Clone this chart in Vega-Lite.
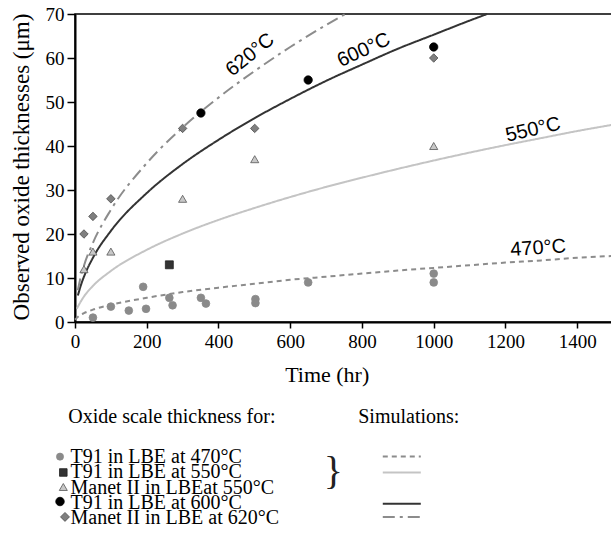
{
  "$schema": "https://vega.github.io/schema/vega-lite/v6.json",
  "width": 537,
  "height": 308,
  "autosize": "none",
  "padding": {"left": 75, "top": 14, "right": 0, "bottom": 212},
  "background": "white",
  "config": {
    "view": {"stroke": "black", "strokeWidth": 1.5}
  },
  "datasets": {
    "obs": [
      {"series": "T91 in LBE at 470°C", "t": 50, "v": 1},
      {"series": "T91 in LBE at 470°C", "t": 100, "v": 3.5},
      {"series": "T91 in LBE at 470°C", "t": 150, "v": 2.6},
      {"series": "T91 in LBE at 470°C", "t": 190, "v": 8},
      {"series": "T91 in LBE at 470°C", "t": 198, "v": 3},
      {"series": "T91 in LBE at 470°C", "t": 263, "v": 5.5},
      {"series": "T91 in LBE at 470°C", "t": 272, "v": 3.8},
      {"series": "T91 in LBE at 470°C", "t": 351, "v": 5.5},
      {"series": "T91 in LBE at 470°C", "t": 365, "v": 4.2},
      {"series": "T91 in LBE at 470°C", "t": 503, "v": 5.2},
      {"series": "T91 in LBE at 470°C", "t": 503, "v": 4.3},
      {"series": "T91 in LBE at 470°C", "t": 650, "v": 9},
      {"series": "T91 in LBE at 470°C", "t": 1000, "v": 11},
      {"series": "T91 in LBE at 470°C", "t": 1000, "v": 9},
      {"series": "T91 in LBE at 550°C", "t": 263, "v": 13},
      {"series": "Manet II in LBEat 550°C", "t": 25, "v": 12},
      {"series": "Manet II in LBEat 550°C", "t": 50, "v": 16},
      {"series": "Manet II in LBEat 550°C", "t": 100, "v": 16},
      {"series": "Manet II in LBEat 550°C", "t": 300, "v": 28},
      {"series": "Manet II in LBEat 550°C", "t": 501, "v": 37},
      {"series": "Manet II in LBEat 550°C", "t": 1000, "v": 40},
      {"series": "T91 in LBE at 600°C", "t": 351, "v": 47.5},
      {"series": "T91 in LBE at 600°C", "t": 650, "v": 55},
      {"series": "T91 in LBE at 600°C", "t": 1000, "v": 62.5},
      {"series": "Manet II in LBE at 620°C", "t": 25, "v": 20},
      {"series": "Manet II in LBE at 620°C", "t": 50, "v": 24},
      {"series": "Manet II in LBE at 620°C", "t": 100, "v": 28},
      {"series": "Manet II in LBE at 620°C", "t": 300, "v": 44},
      {"series": "Manet II in LBE at 620°C", "t": 501, "v": 44},
      {"series": "Manet II in LBE at 620°C", "t": 1000, "v": 60}
    ],
    "sim": [
      {"sim": "470", "t": 0, "v": 0.5}, {"sim": "470", "t": 10, "v": 1.3}, {"sim": "470", "t": 25, "v": 2}, {"sim": "470", "t": 50, "v": 2.8}, {"sim": "470", "t": 100, "v": 3.9}, {"sim": "470", "t": 200, "v": 5.5}, {"sim": "470", "t": 300, "v": 6.8}, {"sim": "470", "t": 400, "v": 7.8}, {"sim": "470", "t": 500, "v": 8.7}, {"sim": "470", "t": 600, "v": 9.6}, {"sim": "470", "t": 700, "v": 10.3}, {"sim": "470", "t": 800, "v": 11}, {"sim": "470", "t": 900, "v": 11.7}, {"sim": "470", "t": 1000, "v": 12.3}, {"sim": "470", "t": 1100, "v": 12.9}, {"sim": "470", "t": 1200, "v": 13.5}, {"sim": "470", "t": 1300, "v": 14}, {"sim": "470", "t": 1400, "v": 14.6}, {"sim": "470", "t": 1497, "v": 15},
      {"sim": "550", "t": 5, "v": 3}, {"sim": "550", "t": 15, "v": 4.5}, {"sim": "550", "t": 25, "v": 5.8}, {"sim": "550", "t": 50, "v": 8.2}, {"sim": "550", "t": 100, "v": 11.6}, {"sim": "550", "t": 200, "v": 16.4}, {"sim": "550", "t": 300, "v": 20.1}, {"sim": "550", "t": 400, "v": 23.2}, {"sim": "550", "t": 500, "v": 25.9}, {"sim": "550", "t": 600, "v": 28.4}, {"sim": "550", "t": 700, "v": 30.7}, {"sim": "550", "t": 800, "v": 32.8}, {"sim": "550", "t": 900, "v": 34.8}, {"sim": "550", "t": 1000, "v": 36.7}, {"sim": "550", "t": 1100, "v": 38.5}, {"sim": "550", "t": 1200, "v": 40.2}, {"sim": "550", "t": 1300, "v": 41.8}, {"sim": "550", "t": 1400, "v": 43.4}, {"sim": "550", "t": 1497, "v": 44.8},
      {"sim": "600", "t": 8, "v": 6}, {"sim": "600", "t": 15, "v": 8}, {"sim": "600", "t": 25, "v": 10.3}, {"sim": "600", "t": 50, "v": 14.6}, {"sim": "600", "t": 100, "v": 20.7}, {"sim": "600", "t": 200, "v": 29.3}, {"sim": "600", "t": 300, "v": 35.9}, {"sim": "600", "t": 400, "v": 41.4}, {"sim": "600", "t": 500, "v": 46.3}, {"sim": "600", "t": 600, "v": 50.7}, {"sim": "600", "t": 700, "v": 54.8}, {"sim": "600", "t": 800, "v": 58.5}, {"sim": "600", "t": 900, "v": 62.1}, {"sim": "600", "t": 1000, "v": 65.3}, {"sim": "600", "t": 1100, "v": 68.5}, {"sim": "600", "t": 1149, "v": 70},
      {"sim": "620", "t": 8, "v": 7.2}, {"sim": "620", "t": 15, "v": 9.9}, {"sim": "620", "t": 25, "v": 12.8}, {"sim": "620", "t": 50, "v": 18}, {"sim": "620", "t": 100, "v": 25.5}, {"sim": "620", "t": 200, "v": 36.1}, {"sim": "620", "t": 300, "v": 44.2}, {"sim": "620", "t": 400, "v": 51}, {"sim": "620", "t": 500, "v": 57}, {"sim": "620", "t": 600, "v": 62.5}, {"sim": "620", "t": 700, "v": 67.5}, {"sim": "620", "t": 754, "v": 70}
    ],
    "legendText": [
      {"text": "Oxide scale thickness for:", "t": -18.7, "v": -22.95},
      {"text": "Simulations:", "t": 789.6, "v": -22.95},
      {"text": "T91 in LBE at 470°C", "t": -12.5, "v": -32.09},
      {"text": "T91 in LBE at 550°C", "t": -12.5, "v": -35.55},
      {"text": "Manet II in LBEat 550°C", "t": -12.5, "v": -39.0},
      {"text": "T91 in LBE at 600°C", "t": -12.5, "v": -42.45},
      {"text": "Manet II in LBE at 620°C", "t": -12.5, "v": -45.9}
    ],
    "legendMarks": [
      {"series": "T91 in LBE at 470°C", "t": -41.8, "v": -30.6},
      {"series": "T91 in LBE at 550°C", "t": -32.6, "v": -34.2},
      {"series": "Manet II in LBEat 550°C", "t": -32.6, "v": -37.5},
      {"series": "T91 in LBE at 600°C", "t": -41.8, "v": -40.8},
      {"series": "Manet II in LBE at 620°C", "t": -27.9, "v": -44.3}
    ],
    "legendLines": [
      {"sim": "470", "t": 858, "v": -30.55}, {"sim": "470", "t": 964, "v": -30.55},
      {"sim": "550", "t": 858, "v": -34.2}, {"sim": "550", "t": 964, "v": -34.2},
      {"sim": "600", "t": 858, "v": -41.3}, {"sim": "600", "t": 964, "v": -41.3},
      {"sim": "620", "t": 858, "v": -44.3}, {"sim": "620", "t": 964, "v": -44.3}
    ]
  },
  "resolve": {"scale": {"size": "independent"}},
  "layer": [
    {
      "data": {"name": "sim"},
      "mark": {"type": "line", "interpolate": "monotone", "strokeWidth": 2},
      "encoding": {
        "x": {"field": "t", "type": "quantitative", "scale": {"domain": [0, 1497], "nice": false},
          "axis": {"values": [0, 200, 400, 600, 800, 1000, 1200, 1400], "format": "d", "grid": false, "domainColor": "black", "domainWidth": 2, "tickColor": "black", "tickWidth": 1.5, "tickSize": 6, "labelColor": "black", "labelFont": "Times New Roman, Liberation Serif, serif", "labelFontSize": 19, "labelPadding": 4, "labelFlush": false, "title": "Time (hr)", "titleColor": "black", "titleFont": "Times New Roman, Liberation Serif, serif", "titleFontWeight": "normal", "titleFontSize": 22, "titleX": 251.7, "titleY": 59.7, "titleBaseline": "alphabetic", "titleAlign": "center"}},
        "y": {"field": "v", "type": "quantitative", "scale": {"domain": [0, 70], "nice": false},
          "axis": {"values": [0, 10, 20, 30, 40, 50, 60, 70], "format": "d", "grid": false, "domainColor": "black", "domainWidth": 2, "tickColor": "black", "tickWidth": 1.5, "tickSize": 8, "labelColor": "black", "labelFont": "Times New Roman, Liberation Serif, serif", "labelFontSize": 19, "labelPadding": 3, "labelFlush": false, "title": "Observed oxide thicknesses (μm)", "titleColor": "black", "titleFont": "Times New Roman, Liberation Serif, serif", "titleFontWeight": "normal", "titleFontSize": 23, "titleX": -46.7, "titleY": 152.5, "titleAngle": 270, "titleBaseline": "alphabetic", "titleAlign": "center"}},
        "color": {"field": "sim", "type": "nominal", "scale": {"domain": ["470", "550", "600", "620"], "range": ["#8c8c8c", "#c4c4c4", "#333333", "#8c8c8c"]}, "legend": null},
        "strokeDash": {"field": "sim", "type": "nominal", "scale": {"domain": ["470", "550", "600", "620"], "range": [[5, 4], [1, 0], [1, 0], [12, 5, 3, 5]]}, "legend": null}
      }
    },
    {
      "data": {"name": "legendLines"},
      "mark": {"type": "line", "strokeWidth": 2},
      "encoding": {
        "x": {"field": "t", "type": "quantitative"},
        "y": {"field": "v", "type": "quantitative"},
        "color": {"field": "sim", "type": "nominal", "legend": null},
        "strokeDash": {"field": "sim", "type": "nominal", "legend": null}
      }
    },
    {
      "data": {"name": "obs"},
      "mark": {"type": "point", "filled": true, "opacity": 1, "strokeWidth": 0.8},
      "encoding": {
        "x": {"field": "t", "type": "quantitative"},
        "y": {"field": "v", "type": "quantitative"},
        "shape": {"field": "series", "type": "nominal", "scale": {"domain": ["T91 in LBE at 470°C", "T91 in LBE at 550°C", "Manet II in LBEat 550°C", "T91 in LBE at 600°C", "Manet II in LBE at 620°C"], "range": ["circle", "square", "triangle-up", "circle", "diamond"]}, "legend": null},
        "fill": {"field": "series", "type": "nominal", "scale": {"domain": ["T91 in LBE at 470°C", "T91 in LBE at 550°C", "Manet II in LBEat 550°C", "T91 in LBE at 600°C", "Manet II in LBE at 620°C"], "range": ["#8a8a8a", "#333333", "#c8c8c8", "#000000", "#7f7f7f"]}, "legend": null},
        "stroke": {"field": "series", "type": "nominal", "scale": {"domain": ["T91 in LBE at 470°C", "T91 in LBE at 550°C", "Manet II in LBEat 550°C", "T91 in LBE at 600°C", "Manet II in LBE at 620°C"], "range": ["#8a8a8a", "#222222", "#555555", "#000000", "#4d4d4d"]}, "legend": null},
        "size": {"field": "series", "type": "nominal", "scale": {"domain": ["T91 in LBE at 470°C", "T91 in LBE at 550°C", "Manet II in LBEat 550°C", "T91 in LBE at 600°C", "Manet II in LBE at 620°C"], "range": [60, 72, 64, 64, 64]}, "legend": null}
      }
    },
    {
      "data": {"name": "legendMarks"},
      "mark": {"type": "point", "filled": true, "opacity": 1, "strokeWidth": 0.8},
      "encoding": {
        "x": {"field": "t", "type": "quantitative"},
        "y": {"field": "v", "type": "quantitative"},
        "shape": {"field": "series", "type": "nominal", "legend": null},
        "fill": {"field": "series", "type": "nominal", "legend": null},
        "stroke": {"field": "series", "type": "nominal", "legend": null},
        "size": {"field": "series", "type": "nominal", "scale": {"domain": ["T91 in LBE at 470°C", "T91 in LBE at 550°C", "Manet II in LBEat 550°C", "T91 in LBE at 600°C", "Manet II in LBE at 620°C"], "range": [50, 80, 95, 45, 95]}, "legend": null}
      }
    },
    {
      "data": {"name": "legendText"},
      "mark": {"type": "text", "font": "Times New Roman, Liberation Serif, serif", "fontSize": 20, "align": "left", "baseline": "alphabetic", "color": "black"},
      "encoding": {
        "x": {"field": "t", "type": "quantitative"},
        "y": {"field": "v", "type": "quantitative"},
        "text": {"field": "text"}
      }
    },
    {
      "data": {"values": [{"text": "}", "t": 720, "v": -34.1}]},
      "mark": {"type": "text", "font": "Times New Roman, Liberation Serif, serif", "fontSize": 40, "align": "center", "baseline": "middle", "color": "#222222"},
      "encoding": {
        "x": {"field": "t", "type": "quantitative"},
        "y": {"field": "v", "type": "quantitative"},
        "text": {"field": "text"}
      }
    },
    {
      "data": {"values": [{"label": "620°C", "t": 488, "v": 60.75}]},
      "mark": {"type": "text", "font": "Liberation Sans", "fontSize": 20, "angle": 321, "align": "center", "baseline": "middle", "color": "black"},
      "encoding": {"x": {"field": "t", "type": "quantitative"}, "y": {"field": "v", "type": "quantitative"}, "text": {"field": "label"}}
    },
    {
      "data": {"values": [{"label": "600°C", "t": 805, "v": 61.8}]},
      "mark": {"type": "text", "font": "Liberation Sans", "fontSize": 20, "angle": 335, "align": "center", "baseline": "middle", "color": "black"},
      "encoding": {"x": {"field": "t", "type": "quantitative"}, "y": {"field": "v", "type": "quantitative"}, "text": {"field": "label"}}
    },
    {
      "data": {"values": [{"label": "550°C", "t": 1277, "v": 43.7}]},
      "mark": {"type": "text", "font": "Liberation Sans", "fontSize": 20, "angle": 347, "align": "center", "baseline": "middle", "color": "black"},
      "encoding": {"x": {"field": "t", "type": "quantitative"}, "y": {"field": "v", "type": "quantitative"}, "text": {"field": "label"}}
    },
    {
      "data": {"values": [{"label": "470°C", "t": 1291, "v": 16.8}]},
      "mark": {"type": "text", "font": "Liberation Sans", "fontSize": 20, "angle": 356, "align": "center", "baseline": "middle", "color": "black"},
      "encoding": {"x": {"field": "t", "type": "quantitative"}, "y": {"field": "v", "type": "quantitative"}, "text": {"field": "label"}}
    }
  ]
}
